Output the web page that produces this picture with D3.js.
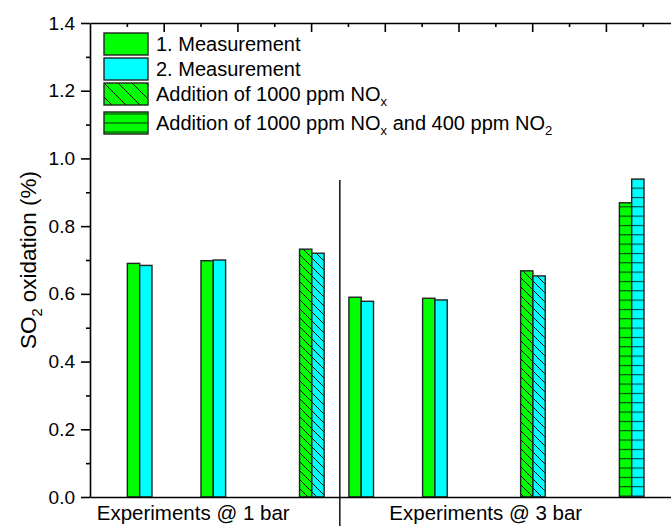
<!DOCTYPE html>
<html>
<head>
<meta charset="utf-8">
<script src="https://cdn.jsdelivr.net/npm/d3@7"></script>
<style>
  html, body { margin: 0; padding: 0; background: #fff; }
  svg { display: block; font-family: Arial, "Liberation Sans", sans-serif; }
</style>
</head>
<body>
<svg id="chart" width="671" height="526"></svg>
<script>
// ---- data ----
const groupX = [0.674, 1.673, 3.01, 3.68, 4.68, 6.01, 7.35];   // x-value of each bar pair
const measurement1 = [0.690, 0.698, 0.732, 0.590, 0.587, 0.668, 0.869];
const measurement2 = [0.684, 0.700, 0.720, 0.578, 0.582, 0.653, 0.939];
const condition = ["plain", "plain", "diag", "plain", "plain", "diag", "horiz"];
const sectionLabels = ["Experiments @ 1 bar", "Experiments @ 3 bar"];
const sectionLabelX = [1.40, 5.37];
const dividerX = 3.39;
const yTicks = [0, 0.2, 0.4, 0.6, 0.8, 1.0, 1.2, 1.4];
const yMinorTicks = [0.1, 0.3, 0.5, 0.7, 0.9, 1.1, 1.3];
const topTicks = [1, 2, 3, 4, 5, 6, 7, 8];
const topMinorTicks = [0.5, 1.5, 2.5, 3.5, 4.5, 5.5, 6.5, 7.5];
const legendItems = [
  { parts: [["1. Measurement", false]], color: "#00ff00", pat: "plain" },
  { parts: [["2. Measurement", false]], color: "#00ffff", pat: "plain" },
  { parts: [["Addition of 1000 ppm NO", false], ["x", true]], color: "#00ff00", pat: "diag" },
  { parts: [["Addition of 1000 ppm NO", false], ["x", true], [" and 400 ppm NO", false], ["2", true]], color: "#00ff00", pat: "horiz" }
];

(function () {
// ---- layout ----
const svg = d3.select("#chart");
const pLeft = 90, pTop = 23, pBottom = 497;
const x = d3.scaleLinear().domain([0, 8.2]).range([pLeft, pLeft + 8.2 * 73.7]);
const y = d3.scaleLinear().domain([0, 1.4]).range([pBottom, pTop]);
const barW = 0.167;
const tickFont = 19, legFont = 20, secFont = 20.5, yLabFont = 22.5;

// patterns
const defs = svg.append("defs");
const pd = defs.append("pattern").attr("id", "diag").attr("patternUnits", "userSpaceOnUse")
  .attr("width", 9).attr("height", 9);
pd.append("path").attr("d", "M0,0 L9,9 M-2,7 L2,11 M7,-2 L11,2")
  .attr("stroke", "#000").attr("stroke-width", 1).attr("fill", "none");
const pdl = defs.append("pattern").attr("id", "diagL").attr("patternUnits", "userSpaceOnUse")
  .attr("width", 14).attr("height", 14).attr("x", 104).attr("y", 83);
pdl.append("path").attr("d", "M0,0 L14,14 M-2,12 L2,16 M12,-2 L16,2")
  .attr("stroke", "#000").attr("stroke-width", 1).attr("fill", "none");
const ph = defs.append("pattern").attr("id", "horiz").attr("patternUnits", "userSpaceOnUse")
  .attr("width", 20).attr("height", 9.33).attr("y", 1);
ph.append("line").attr("x1", 0).attr("x2", 20).attr("y1", 0.5).attr("y2", 0.5)
  .attr("stroke", "#000").attr("stroke-opacity", 0.75).attr("stroke-width", 1.2);
const phl = defs.append("pattern").attr("id", "horizL").attr("patternUnits", "userSpaceOnUse")
  .attr("width", 20).attr("height", 9).attr("y", 122.5);
phl.append("line").attr("x1", 0).attr("x2", 20).attr("y1", 0.5).attr("y2", 0.5)
  .attr("stroke", "#000").attr("stroke-opacity", 0.8).attr("stroke-width", 1);

// bars
const series = [
  { vals: measurement1, color: "#00ff00", off: -1 },
  { vals: measurement2, color: "#00ffff", off: 0 }
];
series.forEach(s => {
  const g = svg.append("g");
  groupX.forEach((gx, i) => {
    const x0 = x(gx + s.off * barW), x1 = x(gx + (s.off + 1) * barW);
    const yt = y(s.vals[i]);
    g.append("rect").attr("x", x0).attr("y", yt).attr("width", x1 - x0).attr("height", y(0) - yt)
      .attr("fill", s.color);
    if (condition[i] !== "plain") {
      g.append("rect").attr("x", x0).attr("y", yt).attr("width", x1 - x0).attr("height", y(0) - yt)
        .attr("fill", "url(#" + condition[i] + ")");
    }
    g.append("rect").attr("x", x0).attr("y", yt).attr("width", x1 - x0).attr("height", y(0) - yt)
      .attr("fill", "none").attr("stroke", "#222").attr("stroke-width", 1.4);
  });
});

// divider
svg.append("line").attr("x1", x(dividerX)).attr("x2", x(dividerX)).attr("y1", 180).attr("y2", 526)
  .attr("stroke", "#000").attr("stroke-width", 1.4);

// y axis
const yAxis = svg.append("g").attr("transform", `translate(${pLeft},0)`)
  .call(d3.axisLeft(y).tickValues(yTicks).tickFormat(d3.format(".1f")).tickSize(9).tickSizeOuter(0).tickPadding(6));
svg.append("g").attr("transform", `translate(${pLeft},0)`)
  .call(d3.axisLeft(y).tickValues(yMinorTicks).tickFormat("").tickSize(4).tickSizeOuter(0))
  .select(".domain").remove();
yAxis.selectAll("text").attr("font-size", tickFont).attr("font-family", "Arial, 'Liberation Sans', sans-serif")
  .attr("fill", "#000");

// top axis (ticks inward)
svg.append("g").attr("transform", `translate(0,${pTop})`)
  .call(d3.axisBottom(x).tickValues(topTicks).tickFormat("").tickSize(9).tickSizeOuter(0));
svg.append("g").attr("transform", `translate(0,${pTop})`)
  .call(d3.axisBottom(x).tickValues(topMinorTicks).tickFormat("").tickSize(4).tickSizeOuter(0))
  .select(".domain").remove();

// bottom axis line
svg.append("g").attr("transform", `translate(0,${pBottom})`)
  .call(d3.axisBottom(x).tickValues([]).tickSizeOuter(0));

svg.selectAll(".domain, .tick line").attr("stroke", "#000").attr("stroke-width", 1.6);

// section labels
svg.append("g").selectAll("text").data(sectionLabels).join("text")
  .attr("x", (d, i) => x(sectionLabelX[i])).attr("y", 520)
  .attr("text-anchor", "middle").attr("font-size", secFont).attr("fill", "#000")
  .text(d => d);

// y label
const yl = svg.append("text").attr("transform", "translate(36,260) rotate(-90)")
  .attr("text-anchor", "middle").attr("font-size", yLabFont).attr("fill", "#000");
yl.append("tspan").text("SO");
yl.append("tspan").text("2").attr("font-size", yLabFont * 0.65).attr("dy", 6);
yl.append("tspan").text(" oxidation (%)").attr("dy", -6);

// legend
const legY = [33, 58, 83, 112];
const lg = svg.append("g");
legendItems.forEach((it, i) => {
  const by = legY[i], bh = 22;
  lg.append("rect").attr("x", 104).attr("y", by).attr("width", 44).attr("height", bh).attr("fill", it.color);
  if (it.pat !== "plain") {
    lg.append("rect").attr("x", 104).attr("y", by).attr("width", 44).attr("height", bh)
      .attr("fill", it.pat === "diag" ? "url(#diagL)" : "url(#horizL)");
  }
  lg.append("rect").attr("x", 104).attr("y", by).attr("width", 44).attr("height", bh)
    .attr("fill", "none").attr("stroke", "#222").attr("stroke-width", 1.4);
  const t = lg.append("text").attr("x", 156).attr("y", by + bh / 2 + 7)
    .attr("font-size", legFont).attr("fill", "#000");
  let shifted = false;
  it.parts.forEach(([s, sub]) => {
    const ts = t.append("tspan").text(s);
    if (sub && !shifted) { ts.attr("dy", 5).attr("font-size", legFont * 0.65); shifted = true; }
    else if (!sub && shifted) { ts.attr("dy", -5); shifted = false; }
  });
});
})();
</script>
</body>
</html>
